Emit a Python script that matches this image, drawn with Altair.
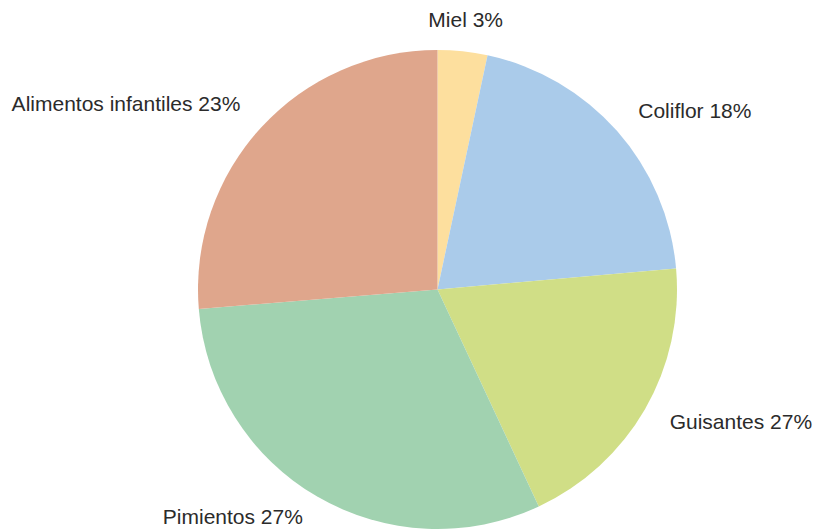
import altair as alt
import pandas as pd

categories = ["Miel", "Coliflor", "Guisantes", "Pimientos", "Alimentos infantiles"]
values = [3.35, 20.25, 19.45, 30.65, 26.3]
label_pcts = [3, 18, 27, 27, 23]
colors = ["#FDDF9E", "#AACBEA", "#D0DE86", "#A1D2B0", "#DFA68C"]

total = sum(values)
cum = 0
sides = []
for v in values:
    mid = (cum + v / 2) / total
    cum += v
    if mid < 0.04 or mid > 0.96:
        sides.append("center")
    elif mid < 0.5:
        sides.append("right")
    else:
        sides.append("left")

df = pd.DataFrame({
    "cat": categories,
    "value": values,
    "idx": list(range(len(categories))),
    "label": [f"{c} {p}%" for c, p in zip(categories, label_pcts)],
    "side": sides,
})

base = alt.Chart(df).encode(
    theta=alt.Theta("value:Q", stack=True),
    order=alt.Order("idx:Q"),
)

arcs = base.mark_arc(radius=239.5, stroke=None).encode(
    color=alt.Color("cat:N", scale=alt.Scale(domain=categories, range=colors), legend=None)
)

def label_layer(side, align, dy):
    return base.transform_calculate(
        t=f"datum.side == '{side}' ? datum.label : ''"
    ).mark_text(
        radius=268, align=align, baseline="middle", font="Liberation Sans",
        fontSize=21, color="#2b2b2b", dy=dy
    ).encode(text="t:N")

chart = alt.layer(
    arcs,
    label_layer("center", "center", -2),
    label_layer("right", "left", 0),
    label_layer("left", "right", -3),
).properties(
    width=700, height=470,
    autosize=alt.AutoSizeParams(type="none"),
    padding={"left": 79.5, "top": 46.5, "right": 25.5, "bottom": 4.5},
).configure_view(stroke=None)

chart.save("out.html", embed_options={"renderer": "svg", "actions": False})
